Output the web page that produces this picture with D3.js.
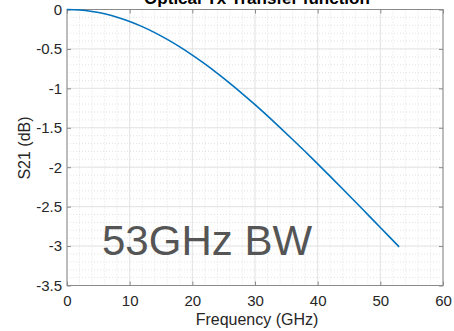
<!DOCTYPE html>
<html>
<head>
<meta charset="utf-8">
<script src="https://cdn.jsdelivr.net/npm/d3@7"></script>
<style>
  html, body { margin: 0; padding: 0; background: #fff; }
  svg { display: block; font-family: "Liberation Sans", Arial, Helvetica, sans-serif; }
</style>
</head>
<body>
<svg id="chart" width="454" height="331"></svg>
<script>
// Measured transfer function of the optical transmitter
const freqGHz = [0, 2, 4, 6, 8, 10, 12, 14, 16, 18, 20, 22, 24, 26, 28, 30,
                 32, 34, 36, 38, 40, 42, 44, 46, 48, 50, 52, 53];
const s21dB = [0, -0.006, -0.025, -0.055, -0.098, -0.152, -0.217, -0.293,
               -0.379, -0.474, -0.578, -0.690, -0.810, -0.937, -1.069, -1.207,
               -1.350, -1.497, -1.648, -1.801, -1.958, -2.116, -2.276, -2.438,
               -2.601, -2.764, -2.928, -3.010];

const xTicks = [0, 10, 20, 30, 40, 50, 60];
const yTicks = [0, -0.5, -1, -1.5, -2, -2.5, -3, -3.5];
const xMinor = d3.range(0, 60.001, 2);
const yMinor = d3.range(-3.5, 0.001, 0.1);

const titleText = "Optical Tx Transfer function";
const xLabel = "Frequency (GHz)";
const yLabel = "S21 (dB)";
const note = "53GHz BW";

const svg = d3.select("#chart");
const plot = { left: 67, right: 443, top: 9.5, bottom: 285.5 };

const x = d3.scaleLinear().domain([0, 60]).range([plot.left, plot.right]);
const y = d3.scaleLinear().domain([-3.5, 0]).range([plot.bottom, plot.top]);

// minor grid (dotted)
const grid = svg.append("g");
grid.selectAll("line.vminor").data(xMinor).join("line")
  .attr("x1", d => x(d)).attr("x2", d => x(d))
  .attr("y1", plot.top).attr("y2", plot.bottom)
  .attr("stroke", "#dcdcdc").attr("stroke-width", 0.8)
  .attr("stroke-dasharray", "1,2");
grid.selectAll("line.hminor").data(yMinor).join("line")
  .attr("y1", d => y(d)).attr("y2", d => y(d))
  .attr("x1", plot.left).attr("x2", plot.right)
  .attr("stroke", "#dcdcdc").attr("stroke-width", 0.8)
  .attr("stroke-dasharray", "1,2");

// major grid (solid)
grid.selectAll("line.vmajor").data(xTicks).join("line")
  .attr("x1", d => x(d)).attr("x2", d => x(d))
  .attr("y1", plot.top).attr("y2", plot.bottom)
  .attr("stroke", "#e4e4e4").attr("stroke-width", 1);
grid.selectAll("line.hmajor").data(yTicks).join("line")
  .attr("y1", d => y(d)).attr("y2", d => y(d))
  .attr("x1", plot.left).attr("x2", plot.right)
  .attr("stroke", "#e4e4e4").attr("stroke-width", 1);

// axes with inward ticks
const fmt = d => String(d);
const axisColor = "#8a8a8a";
function styleAxis(g) {
  g.select(".domain").remove();
  g.selectAll(".tick line").attr("stroke", axisColor);
  g.selectAll(".tick text").attr("fill", "#262626").style("font-size", "15px");
}
svg.append("g").attr("transform", `translate(0,${plot.bottom})`)
  .call(d3.axisBottom(x).tickValues(xTicks).tickFormat(fmt).tickSizeInner(-4).tickPadding(10))
  .call(styleAxis);
svg.append("g").attr("transform", `translate(0,${plot.top})`)
  .call(d3.axisTop(x).tickValues(xTicks).tickFormat("").tickSizeInner(-4))
  .call(styleAxis);
svg.append("g").attr("transform", `translate(${plot.left},0)`)
  .call(d3.axisLeft(y).tickValues(yTicks).tickFormat(fmt).tickSizeInner(-4).tickPadding(5))
  .call(styleAxis);
svg.append("g").attr("transform", `translate(${plot.right},0)`)
  .call(d3.axisRight(y).tickValues(yTicks).tickFormat("").tickSizeInner(-4))
  .call(styleAxis);

// frame
svg.append("rect")
  .attr("x", plot.left).attr("y", plot.top)
  .attr("width", plot.right - plot.left).attr("height", plot.bottom - plot.top)
  .attr("fill", "none").attr("stroke", axisColor).attr("stroke-width", 1);

// response curve
const line = d3.line().x((d, i) => x(freqGHz[i])).y(d => y(d)).curve(d3.curveMonotoneX);
svg.append("path").datum(s21dB)
  .attr("d", line)
  .attr("fill", "none").attr("stroke", "#0072bd").attr("stroke-width", 1.6);

// annotation
svg.append("text").attr("x", 102).attr("y", 255)
  .attr("fill", "#555555").style("font-size", "42px").text(note);

// labels
svg.append("text").attr("x", 257).attr("y", 4).attr("text-anchor", "middle")
  .attr("fill", "#000").style("font-size", "17px").style("font-weight", "bold").text(titleText);
svg.append("text").attr("x", 257).attr("y", 325).attr("text-anchor", "middle")
  .attr("fill", "#262626").style("font-size", "16px").text(xLabel);
svg.append("text").attr("transform", "translate(30,148) rotate(-90)").attr("text-anchor", "middle")
  .attr("fill", "#262626").style("font-size", "16px").text(yLabel);
</script>
</body>
</html>
